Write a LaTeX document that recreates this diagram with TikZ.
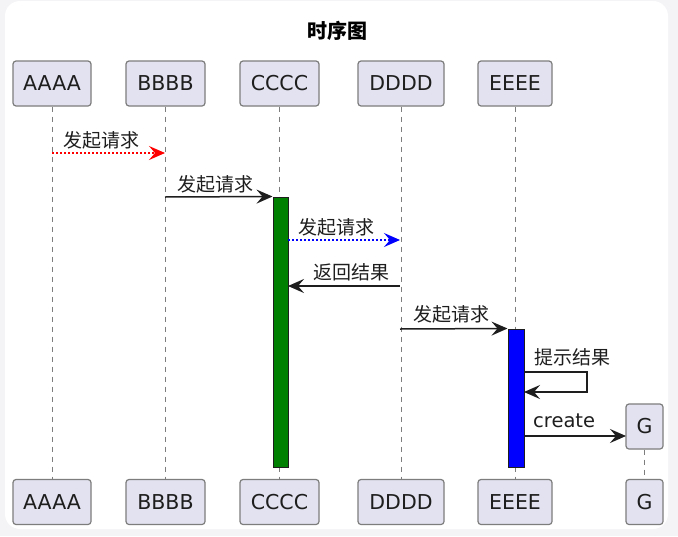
\documentclass[tikz,border=0pt]{standalone}
\usepackage{fontspec}
\setmainfont{DejaVu Sans}
\newfontfamily\cjk{Noto Sans CJK SC}
\usetikzlibrary{arrows.meta}
\definecolor{pbg}{RGB}{244,244,247}
\definecolor{pfill}{RGB}{226,226,240}
\definecolor{pline}{RGB}{125,125,125}
\definecolor{txt}{RGB}{30,30,30}
\definecolor{actgreen}{RGB}{0,128,0}
\definecolor{actblue}{RGB}{0,0,255}
\begin{document}
\begin{tikzpicture}[x=1pt,y=-1pt,
 part/.style={draw=pline, fill=pfill, rounded corners=3pt, line width=1.2pt, minimum height=45pt, inner sep=0pt, font=\fontsize{20.5}{24}\selectfont, text=txt},
 life/.style={draw=pline, line width=1pt, dash pattern=on 5pt off 5pt},
 msg/.style={line width=1.5pt, color=txt, -{Stealth[length=16pt,width=14pt,inset=6pt]}},
 dotmsg/.style={msg, line width=1.2pt, dash pattern=on 2pt off 2pt},
 lbl/.style={font=\cjk\fontsize{19}{22}\selectfont, text=txt, anchor=west, inner sep=0pt},
 act/.style={draw=txt, line width=1pt, minimum width=15pt, inner sep=0pt}
]
\useasboundingbox (0,0) rectangle (678,536);
\fill[pbg] (0,0) rectangle (678,536);
\fill[white, rounded corners=15pt] (5,1) rectangle (668,529);

\node[font=\cjk\bfseries\fontsize{20}{24}\selectfont, text=black] (title) at (337,31) {时序图};

% participants top
\node[part, minimum width=78pt] (At) at (52,83.5) {AAAA};
\node[part, minimum width=79pt] (Bt) at (165.5,83.5) {BBBB};
\node[part, minimum width=79pt] (Ct) at (279.5,83.5) {CCCC};
\node[part, minimum width=86pt] (Dt) at (401,83.5) {DDDD};
\node[part, minimum width=74pt] (Et) at (515,83.5) {EEEE};
\node[part, minimum width=37pt] (Gt) at (644.5,426.5) {G};
% participants bottom
\node[part, minimum width=78pt] (Ab) at (52,502) {AAAA};
\node[part, minimum width=79pt] (Bb) at (165.5,502) {BBBB};
\node[part, minimum width=79pt] (Cb) at (279.5,502) {CCCC};
\node[part, minimum width=86pt] (Db) at (401,502) {DDDD};
\node[part, minimum width=74pt] (Eb) at (515,502) {EEEE};
\node[part, minimum width=37pt] (Gb) at (644.5,502) {G};

% lifelines
\draw[life] (At) -- (Ab);
\draw[life] (Bt) -- (Bb);
\draw[life] (Ct) -- (Cb);
\draw[life] (Dt) -- (Db);
\draw[life] (Et) -- (Eb);
\draw[life] (Gt) -- (Gb);

% activations
\node[act, fill=actgreen, minimum width=15pt, minimum height=270pt] (actC) at (280.5,332) {};
\node[act, fill=actblue, minimum width=16pt, minimum height=138pt] (actE) at (516,398) {};

% coordinates
\coordinate (m1s) at (52,153);
\coordinate (m1e) at (165,153);
\coordinate (m2s) at (165,197);
\coordinate (m3s) at (288,240);
\coordinate (m3e) at (400,240);
\coordinate (m4s) at (400,286);
\coordinate (m4e) at (288,286);
\coordinate (m5s) at (400,329);
\coordinate (m6a) at (524,372);
\coordinate (m6b) at (587,372);
\coordinate (m6c) at (587,392);
\coordinate (m6d) at (524,392);
\coordinate (m7s) at (524,436);
\coordinate (m7e) at (626,436);

% messages
\draw[dotmsg, red] (m1s) -- (m1e);
\draw[msg] (m2s) -- (actC.north west);
\draw[dotmsg, blue] (m3s) -- (m3e);
\draw[msg] (m4s) -- (m4e);
\draw[msg] (m5s) -- (actE.north west);
\draw[msg] (m6a) -- (m6b) -- (m6c) -- (m6d);
\draw[msg] (m7s) -- (m7e);

% labels
\node[lbl] (l1) at (63,140) {发起请求};
\node[lbl] (l2) at (177,184) {发起请求};
\node[lbl] (l3) at (298,227) {发起请求};
\node[lbl] (l4) at (313,272) {返回结果};
\node[lbl] (l5) at (413,314) {发起请求};
\node[lbl] (l6) at (534,357) {提示结果};
\node[lbl, font=\fontsize{19.5}{22}\selectfont] (l7) at (533,421) {create};
\end{tikzpicture}
\end{document}
